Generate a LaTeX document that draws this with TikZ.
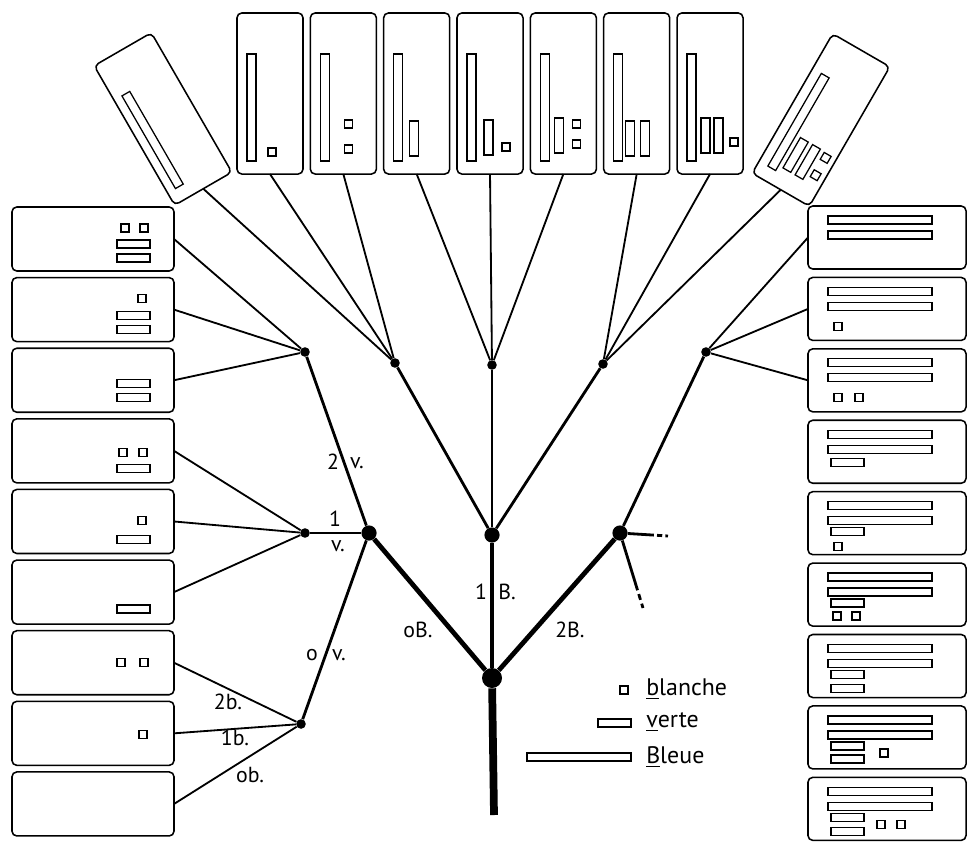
\documentclass[tikz,border=0pt]{standalone}
\usepackage{fontspec}
\setmainfont{PT Sans}
\usetikzlibrary{positioning}
\tikzset{
  hcard/.style={rectangle, rounded corners=1.2mm, draw, line width=1.1pt,
               minimum width=4.05cm, minimum height=1.6cm,
               inner sep=0pt, outer sep=0pt},
  rcard/.style={hcard, minimum width=3.95cm, minimum height=1.575cm},
  vcard/.style={hcard, minimum width=1.65cm, minimum height=4.025cm},
  piece/.style={draw, line width=0.9pt},
  bead/.style={circle, fill, inner sep=0pt, minimum size=0.24cm},
  midbead/.style={bead, minimum size=0.38cm},
  bigbead/.style={bead, minimum size=0.5cm},
  trunk/.style={line width=5.5pt},
  limb/.style={line width=3.4pt},
  twig/.style={line width=2pt},
  leaf/.style={line width=1.3pt},
  stub/.style={line width=2pt},
  lbl/.style={font=\fontsize{15.5}{17}\selectfont, inner sep=0pt},
  lgd/.style={font=\fontsize{17}{19}\selectfont, inner sep=0pt, anchor=west}
}
% pieces: blanche, verte, Bleue (lying / standing)
\newcommand\sqb[2]{\draw[piece] (#1,#2) rectangle ++(8,8);}
\newcommand\barv[2]{\draw[piece] (#1,#2) rectangle ++(33,8);}
\newcommand\barB[2]{\draw[piece] (#1,#2) rectangle ++(104,8);}
\newcommand\colv[2]{\draw[piece] (#1,#2) rectangle ++(9,35);}
\newcommand\colB[2]{\draw[piece] (#1,#2) rectangle ++(9,107);}

\begin{document}
\begin{tikzpicture}[x=0.025cm, y=-0.025cm, node distance=1.65mm]
  \useasboundingbox (0,0) rectangle (968,842);

  % left column (0 B.)
  \node[hcard] (l1) at (93,239) {};
  \node[hcard, below=of l1] (l2) {};
  \node[hcard, below=of l2] (l3) {};
  \node[hcard, below=of l3] (l4) {};
  \node[hcard, below=of l4] (l5) {};
  \node[hcard, below=of l5] (l6) {};
  \node[hcard, below=of l6] (l7) {};
  \node[hcard, below=of l7] (l8) {};
  \node[hcard, below=of l8] (l9) {};

  % right column (2 B.)
  \node[rcard] (r1) at (887,237.5) {};
  \node[rcard, below=2.1mm of r1] (r2) {};
  \node[rcard, below=2.1mm of r2] (r3) {};
  \node[rcard, below=2.1mm of r3] (r4) {};
  \node[rcard, below=2.1mm of r4] (r5) {};
  \node[rcard, below=2.1mm of r5] (r6) {};
  \node[rcard, below=2.1mm of r6] (r7) {};
  \node[rcard, below=2.1mm of r7] (r8) {};
  \node[rcard, below=2.1mm of r8] (r9) {};

  % top row (1 B.)
  \node[vcard, rotate=30] (tl) at (163,119) {};
  \node[vcard] (t1) at (270,93.5) {};
  \node[vcard, right=1.83mm of t1] (t2) {};
  \node[vcard, right=1.83mm of t2] (t3) {};
  \node[vcard, right=1.83mm of t3] (t4) {};
  \node[vcard, right=1.83mm of t4] (t5) {};
  \node[vcard, right=1.83mm of t5] (t6) {};
  \node[vcard, right=1.83mm of t6] (t7) {};
  \node[vcard, rotate=-30] (tr) at (821,120) {};

  % what lies in each card
  \begin{scope}[shift={(l1.north west)}] \sqb{109}{17}\sqb{128}{17}\barv{105}{33}\barv{105}{47} \end{scope}
  \begin{scope}[shift={(l2.north west)}] \sqb{126}{17}\barv{105}{34}\barv{105}{48} \end{scope}
  \begin{scope}[shift={(l3.north west)}] \barv{105}{31}\barv{105}{45} \end{scope}
  \begin{scope}[shift={(l4.north west)}] \sqb{107}{30}\sqb{127}{30}\barv{105}{46} \end{scope}
  \begin{scope}[shift={(l5.north west)}] \sqb{126}{27}\barv{105}{46} \end{scope}
  \begin{scope}[shift={(l6.north west)}] \barv{105}{45} \end{scope}
  \begin{scope}[shift={(l7.north west)}] \sqb{105}{28}\sqb{128}{28} \end{scope}
  \begin{scope}[shift={(l8.north west)}] \sqb{127}{29} \end{scope}

  \begin{scope}[shift={(r1.north west)}] \barB{20}{10}\barB{20}{25} \end{scope}
  \begin{scope}[shift={(r2.north west)}] \barB{20}{10}\barB{20}{25}\sqb{26}{45} \end{scope}
  \begin{scope}[shift={(r3.north west)}] \barB{20}{10}\barB{20}{25}\sqb{26}{45}\sqb{47}{45} \end{scope}
  \begin{scope}[shift={(r4.north west)}] \barB{20}{10}\barB{20}{25}\barv{23}{38} \end{scope}
  \begin{scope}[shift={(r5.north west)}] \barB{20}{10}\barB{20}{25}\barv{23}{36}\sqb{26}{51} \end{scope}
  \begin{scope}[shift={(r6.north west)}] \barB{20}{10}\barB{20}{25}\barv{23}{36}\sqb{25}{49}\sqb{44}{49} \end{scope}
  \begin{scope}[shift={(r7.north west)}] \barB{20}{10}\barB{20}{25}\barv{23}{36}\barv{23}{50} \end{scope}
  \begin{scope}[shift={(r8.north west)}] \barB{20}{10}\barB{20}{25}\barv{23}{36}\barv{23}{49}\sqb{72}{43} \end{scope}
  \begin{scope}[shift={(r9.north west)}] \barB{20}{10}\barB{20}{25}\barv{23}{36}\barv{23}{50}\sqb{69}{43}\sqb{89}{43} \end{scope}

  \begin{scope}[shift={(tl.north west)}, rotate=30] \colB{9}{40} \end{scope}
  \begin{scope}[shift={(t1.north west)}] \colB{10}{41}\sqb{31}{135} \end{scope}
  \begin{scope}[shift={(t2.north west)}] \colB{10}{41}\sqb{34}{107}\sqb{34}{132} \end{scope}
  \begin{scope}[shift={(t3.north west)}] \colB{10}{41}\colv{26}{108} \end{scope}
  \begin{scope}[shift={(t4.north west)}] \colB{10}{41}\colv{27}{107}\sqb{45}{130} \end{scope}
  \begin{scope}[shift={(t5.north west)}] \colB{10}{41}\colv{24}{105}\sqb{42}{107}\sqb{42}{127} \end{scope}
  \begin{scope}[shift={(t6.north west)}] \colB{10}{41}\colv{22}{108}\colv{37}{108} \end{scope}
  \begin{scope}[shift={(t7.north west)}] \colB{10}{41}\colv{24}{105}\colv{37}{105}\sqb{53}{125} \end{scope}
  \begin{scope}[shift={(tr.north west)}, rotate=-30] \colB{10}{40}\colv{24}{106}\colv{38}{106}\sqb{52}{107}\sqb{52}{127} \end{scope}

  % the tree
  \node[bigbead] (root) at (492,678) {};
  \coordinate (foot) at (494,815);
  \node[midbead] (b0) at (369,533) {};
  \node[midbead] (b1) at (492,535) {};
  \node[midbead] (b2) at (620,533) {};
  \node[bead] (b0v0) at (301,724) {};
  \node[bead] (b0v1) at (305,533) {};
  \node[bead] (b0v2) at (305,352) {};
  \node[bead] (b1v0) at (395,363) {};
  \node[bead] (b1v1) at (492,365) {};
  \node[bead] (b1v2) at (603,364) {};
  \node[bead] (b2v0) at (706,352) {};
  \coordinate (more1) at (668,536);
  \coordinate (more2) at (643,608);

  \draw[trunk] (root) -- (foot);
  \draw[limb] (root) -- (b0); \draw[limb] (root) -- (b1); \draw[limb] (root) -- (b2);
  \draw[twig] (b0) -- (b0v0); \draw[twig] (b0) -- (b0v1); \draw[twig] (b0) -- (b0v2);
  \draw[twig] (b1) -- (b1v0); \draw[twig] (b1) -- (b1v1); \draw[twig] (b1) -- (b1v2);
  \draw[twig] (b2) -- (b2v0);
  \draw[stub, dash pattern=on 6.5mm off 0.8mm on 1.3mm off 0.8mm on 1.3mm] (b2) -- (more1);
  \draw[stub, dash pattern=on 13mm off 1mm on 1.5mm off 1mm on 2mm] (b2) -- (more2);

  \draw[leaf] (b0v2) -- (l1.east); \draw[leaf] (b0v2) -- (l2.east); \draw[leaf] (b0v2) -- (l3.east);
  \draw[leaf] (b0v1) -- (l4.east); \draw[leaf] (b0v1) -- (l5.east); \draw[leaf] (b0v1) -- (l6.east);
  \draw[leaf] (b0v0) -- (l7.east); \draw[leaf] (b0v0) -- (l8.east); \draw[leaf] (b0v0) -- (l9.east);
  \draw[leaf] (b1v0) -- (tl.south); \draw[leaf] (b1v0) -- (t1.south); \draw[leaf] (b1v0) -- (t2.south);
  \draw[leaf] (b1v1) -- (t3.south); \draw[leaf] (b1v1) -- (t4.south); \draw[leaf] (b1v1) -- (t5.south);
  \draw[leaf] (b1v2) -- (t6.south); \draw[leaf] (b1v2) -- (t7.south); \draw[leaf] (b1v2) -- (tr.south);
  \draw[leaf] (b2v0) -- (r1.west); \draw[leaf] (b2v0) -- (r2.west); \draw[leaf] (b2v0) -- (r3.west);

  % branch labels
  \node[lbl] (lab2v) at (333,462) {2}; \node[lbl] (lab2vv) at (357,463) {v.};
  \node[lbl] (lab1v) at (335,519) {1}; \node[lbl] (lab1vv) at (338,546) {v.};
  \node[lbl] (lab0v) at (312,655) {o}; \node[lbl] (lab0vv) at (339,655) {v.};
  \node[lbl] (lab0B) at (418,630) {oB.};
  \node[lbl] (lab1B) at (481,592) {1}; \node[lbl] (lab1BB) at (507,592) {B.};
  \node[lbl] (lab2B) at (570,630) {2B.};
  \node[lbl] (lab2b) at (228,702) {2b.};
  \node[lbl] (lab1b) at (235,738) {1b.};
  \node[lbl] (lab0b) at (250,775) {ob.};

  % legend
  \sqb{620}{686} \barv{598}{719} \barB{527}{753}
  \node[lgd] (keyb) at (646,689) {\underline{b}lanche};
  \node[lgd] (keyv) at (646,722) {\underline{v}erte};
  \node[lgd] (keyB) at (646,757) {\underline{B}leue};
\end{tikzpicture}
\end{document}
